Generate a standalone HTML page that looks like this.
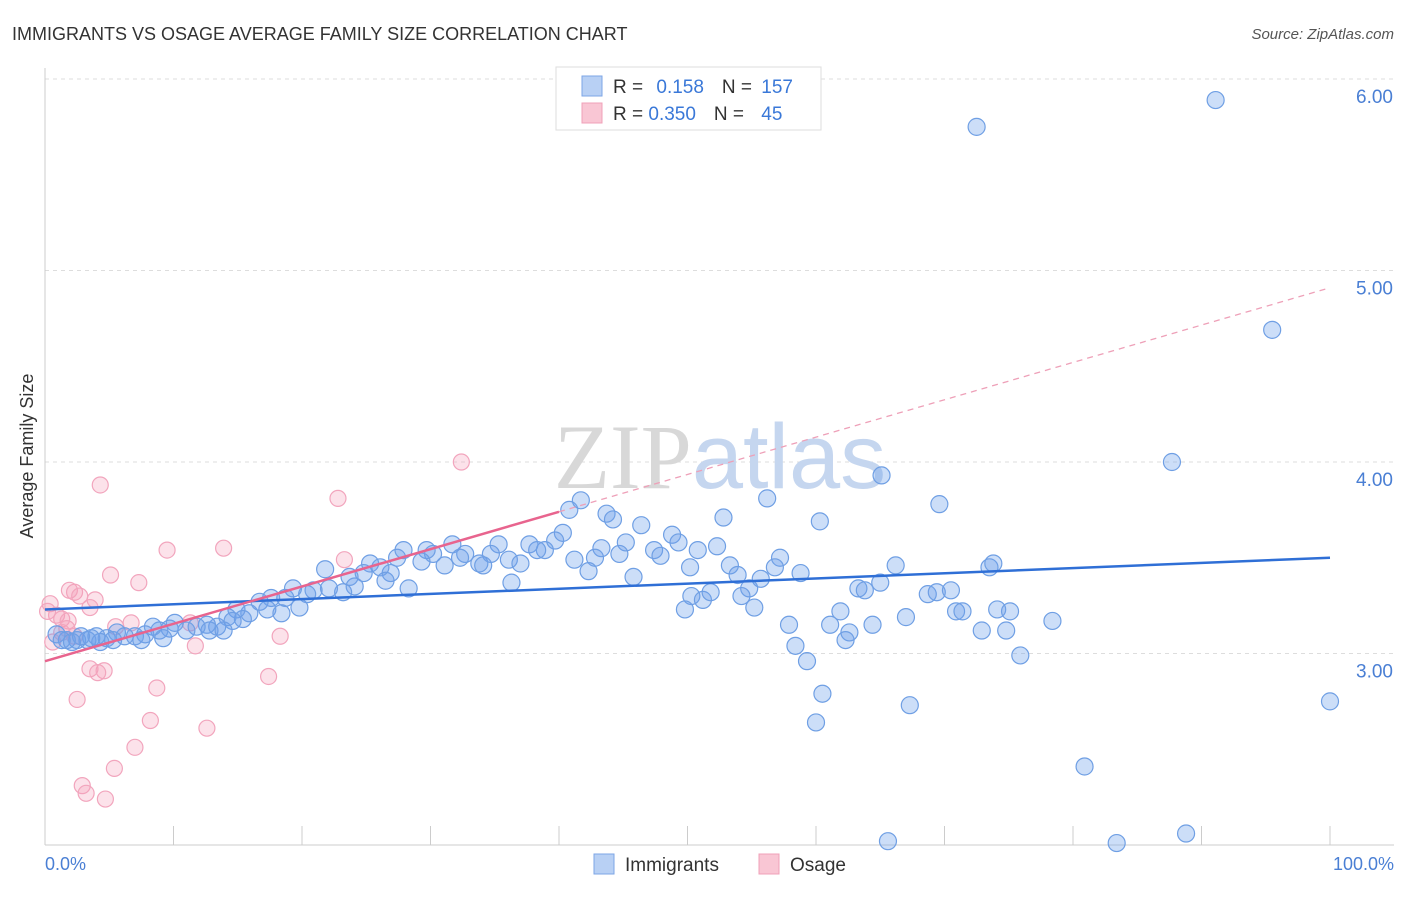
<!DOCTYPE html>
<html><head><meta charset="utf-8"><style>
body{margin:0;background:#fff;font-family:"Liberation Sans",sans-serif;}
</style></head><body>
<svg width="1406" height="892" viewBox="0 0 1406 892" xmlns="http://www.w3.org/2000/svg">
<text x="12" y="40" font-size="18" fill="#333">IMMIGRANTS VS OSAGE AVERAGE FAMILY SIZE CORRELATION CHART</text>
<text x="1394" y="39" font-size="15" fill="#555" text-anchor="end" font-style="italic">Source: ZipAtlas.com</text>
<g id="grid"></g>
<text x="720" y="488" font-size="92" fill="#d8d8d8" text-anchor="middle" font-family="Liberation Serif">ZIP<tspan fill="#c5d6ef" font-family="Liberation Sans">atlas</tspan></text>
<line x1="45" y1="68" x2="45" y2="845" stroke="#ccc"/>
<line x1="45" y1="845" x2="1394" y2="845" stroke="#ccc"/>
<g id="xticks"></g>
<g id="yticks"></g>
<text x="33" y="456" font-size="18" fill="#333" text-anchor="middle" transform="rotate(-90 33 456)">Average Family Size</text>
<text x="45" y="870" font-size="18" fill="#4a7fd4">0.0%</text>
<text x="1394" y="870" font-size="18" fill="#4a7fd4" text-anchor="end">100.0%</text>
<g id="pink"></g>
<g id="blue"></g>
<g id="trends"></g>
<g>
<rect x="556" y="67" width="265" height="63" fill="#fff" stroke="#ddd"/>
<rect x="582" y="76" width="20" height="20" fill="#b8d0f4" stroke="#7da6e6"/>
<rect x="582" y="103" width="20" height="20" fill="#f9c6d4" stroke="#f0a0b8"/>
<text x="613" y="93" font-size="19" fill="#333">R = <tspan fill="#3a78d8" dx="8">0.158</tspan><tspan dx="18" fill="#333">N = </tspan><tspan fill="#3a78d8" dx="4">157</tspan></text>
<text x="613" y="120" font-size="19" fill="#333">R = <tspan fill="#3a78d8">0.350</tspan><tspan dx="18" fill="#333">N = </tspan><tspan fill="#3a78d8" dx="12">45</tspan></text>
</g>
<g>
<rect x="594" y="854" width="20" height="20" fill="#b8d0f4" stroke="#7da6e6"/>
<text x="625" y="871" font-size="19" fill="#333">Immigrants</text>
<rect x="759" y="854" width="20" height="20" fill="#f9c6d4" stroke="#f0a0b8"/>
<text x="790" y="871" font-size="19" fill="#333">Osage</text>
</g>
</svg>
<script>
const yTicks=[3,4,5,6];
const yTickLabels=["3.00","4.00","5.00","6.00"];
const blueX=[91.1,72.5,95.5,87.7,65.1,56.2,41.7,40.8,69.6,43.7,44.2,52.8,60.3,46.4,48.8,40.3,39.7,49.3,52.3,50.8,45.2,43.3,47.4,47.9,44.7,42.8,41.2,37.7,38.9,38.3,35.3,34.7,36.1,37.0,33.8,34.1,32.7,31.7,32.3,31.1,30.2,29.7,29.3,27.9,27.4,26.9,26.1,25.3,24.8,23.7,21.8,24.1,23.2,22.1,20.9,20.4,19.3,18.7,19.8,17.6,16.7,17.3,15.9,14.9,14.2,18.4,15.4,14.6,13.4,12.6,11.8,11.0,10.1,9.7,8.9,8.4,7.8,7.0,6.2,5.6,4.8,4.0,3.3,2.5,1.7,0.9,1.3,12.8,13.9,9.2,7.5,5.3,4.3,3.6,2.8,2.1,26.5,28.3,36.3,42.3,45.8,50.2,53.3,53.9,57.2,56.8,58.8,55.7,54.8,54.2,55.2,50.3,51.2,51.8,49.8,61.9,63.3,63.8,65.0,66.2,67.0,68.7,69.4,70.5,73.5,73.8,70.9,71.4,74.1,75.1,78.4,72.9,74.8,75.9,57.9,61.1,62.6,62.3,64.4,58.4,59.3,60.5,60.0,67.3,100,80.9,65.6,83.4,88.8];
const blueY=[5.89,5.75,4.69,4.00,3.93,3.81,3.80,3.75,3.78,3.73,3.70,3.71,3.69,3.67,3.62,3.63,3.59,3.58,3.56,3.54,3.58,3.55,3.54,3.51,3.52,3.50,3.49,3.57,3.54,3.54,3.57,3.52,3.49,3.47,3.47,3.46,3.52,3.57,3.50,3.46,3.52,3.54,3.48,3.54,3.50,3.42,3.45,3.47,3.42,3.40,3.44,3.35,3.32,3.34,3.33,3.31,3.34,3.29,3.24,3.29,3.27,3.23,3.21,3.23,3.19,3.21,3.18,3.17,3.14,3.15,3.14,3.12,3.16,3.13,3.12,3.14,3.10,3.09,3.09,3.11,3.08,3.09,3.07,3.07,3.07,3.10,3.07,3.12,3.12,3.08,3.07,3.07,3.06,3.08,3.09,3.06,3.38,3.34,3.37,3.43,3.40,3.45,3.46,3.41,3.50,3.45,3.42,3.39,3.34,3.30,3.24,3.30,3.28,3.32,3.23,3.22,3.34,3.33,3.37,3.46,3.19,3.31,3.32,3.33,3.45,3.47,3.22,3.22,3.23,3.22,3.17,3.12,3.12,2.99,3.15,3.15,3.11,3.07,3.15,3.04,2.96,2.79,2.64,2.73,2.75,2.41,2.02,2.01,2.06];
const pinkX=[32.4,22.8,4.3,9.5,13.9,23.3,5.1,7.3,1.9,2.3,2.7,3.9,3.5,0.4,0.9,1.3,1.8,6.7,5.5,1.7,1.3,2.3,0.6,11.3,18.3,11.7,3.5,4.6,4.1,17.4,8.7,2.5,8.2,12.6,7.0,5.4,2.9,3.2,4.7,0.2];
const pinkY=[4.00,3.81,3.88,3.54,3.55,3.49,3.41,3.37,3.33,3.32,3.30,3.28,3.24,3.26,3.20,3.18,3.17,3.16,3.14,3.13,3.11,3.09,3.06,3.16,3.09,3.04,2.92,2.91,2.90,2.88,2.82,2.76,2.65,2.61,2.51,2.40,2.31,2.27,2.24,3.22];
const blueTrend=[0,3.23,100,3.50];
const pinkTrend=[0,2.96,40,3.74,100,4.91];
const NS="http://www.w3.org/2000/svg";
const xs=v=>45+v*12.85;
const ys=v=>462-(v-4)*191.5;
function mk(tag,attrs,parent){const e=document.createElementNS(NS,tag);for(const k in attrs)e.setAttribute(k,attrs[k]);document.getElementById(parent).appendChild(e);return e;}
yTicks.forEach((t,i)=>{
 const l=mk('line',{x1:45,x2:1394,y1:ys(t),y2:ys(t),stroke:'#ddd','stroke-dasharray':'4,4'},'grid');
 
 
 const tx=mk('text',{x:1393,y:ys(t)+24,'font-size':19,fill:'#4a7fd4','text-anchor':'end'},'yticks');
 tx.textContent=yTickLabels[i];
 
 
});
{const l=mk('line',{x1:45,x2:1394,y1:79,y2:79,stroke:'#ddd','stroke-dasharray':'4,4'},'grid');}
for(let i=0;i<=10;i++){
 const l=mk('line',{x1:xs(i*10),x2:xs(i*10),y1:826,y2:845,stroke:'#ccc'},'xticks');
 
 
}
pinkX.forEach((x,i)=>{
 const c=mk('circle',{cx:xs(x),cy:ys(pinkY[i]),r:8,fill:'rgba(244,160,185,0.3)',stroke:'#f2a5bd','stroke-width':1.2},'pink');
 
 
});
blueX.forEach((x,i)=>{
 const c=mk('circle',{cx:xs(x),cy:ys(blueY[i]),r:8.5,fill:'rgba(110,160,235,0.35)',stroke:'#6f9fe4','stroke-width':1.2},'blue');
 
 
});
let t=mk('line',{x1:xs(blueTrend[0]),y1:ys(blueTrend[1]),x2:xs(blueTrend[2]),y2:ys(blueTrend[3]),stroke:'#2f6fd6','stroke-width':2.5},'trends');


t=mk('line',{x1:xs(pinkTrend[0]),y1:ys(pinkTrend[1]),x2:xs(pinkTrend[2]),y2:ys(pinkTrend[3]),stroke:'#e8648e','stroke-width':2.5},'trends');


t=mk('line',{x1:xs(pinkTrend[2]),y1:ys(pinkTrend[3]),x2:xs(pinkTrend[4]),y2:ys(pinkTrend[5]),stroke:'#eea0b8','stroke-width':1.3,'stroke-dasharray':'6,5'},'trends');


</script>
</body></html>
